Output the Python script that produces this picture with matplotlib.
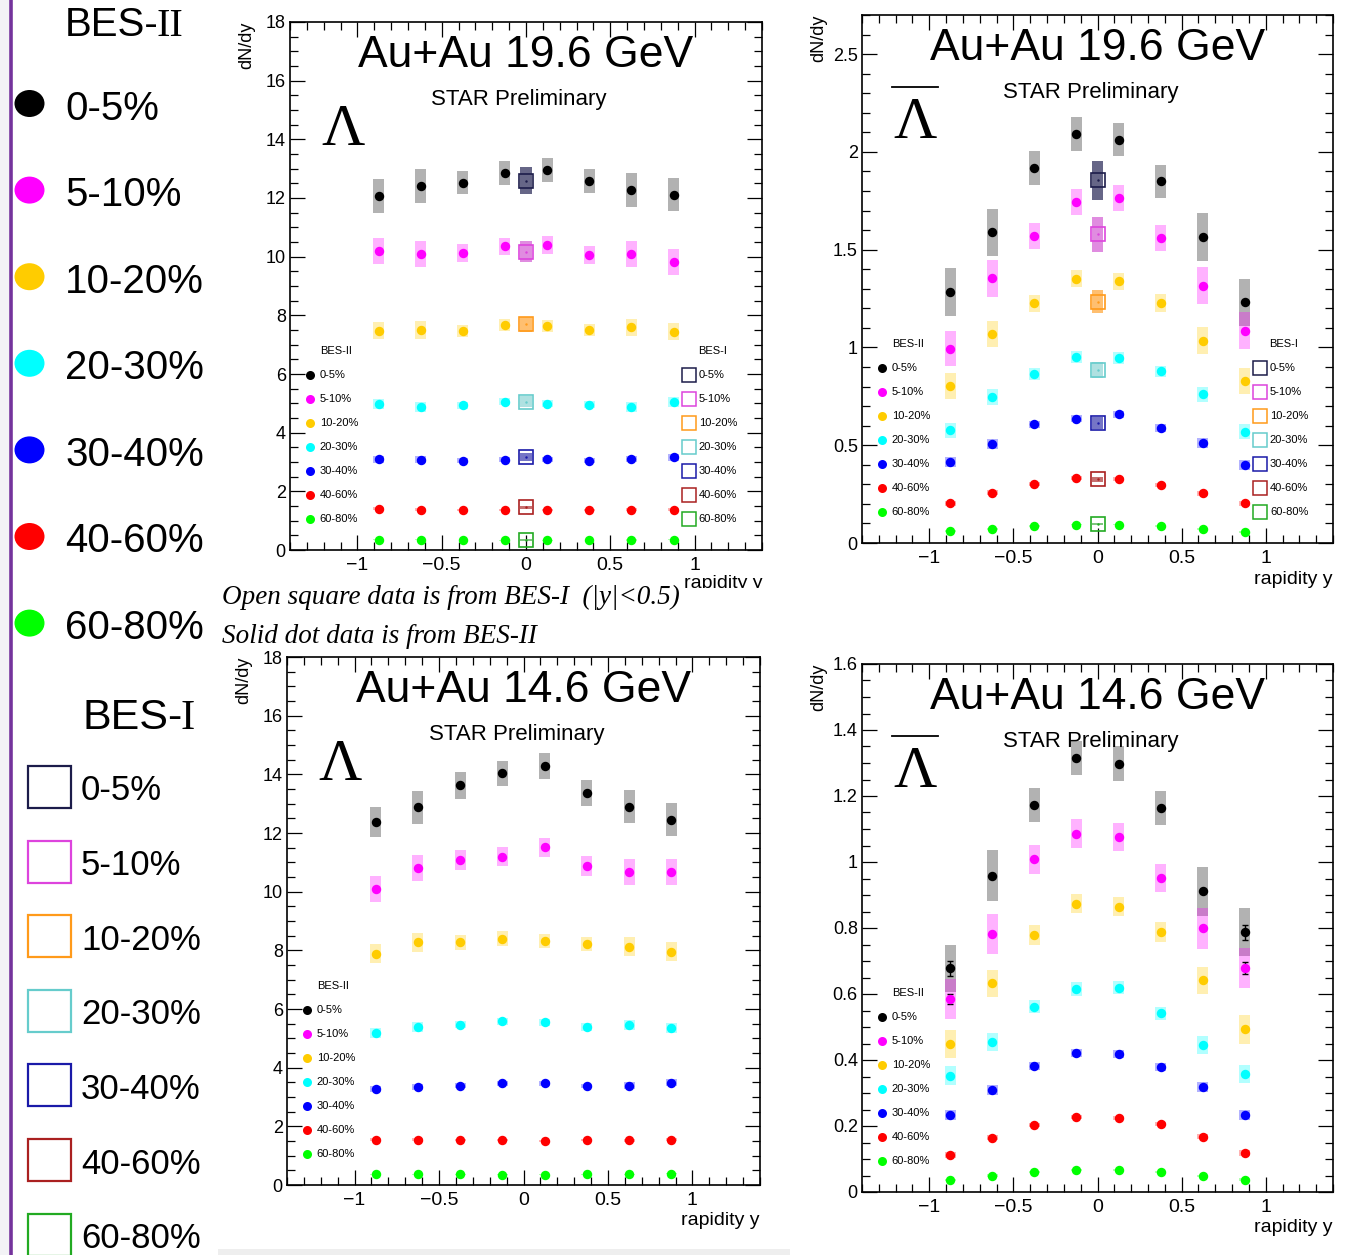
import matplotlib
matplotlib.use('Agg')
import matplotlib.pyplot as plt
from matplotlib.ticker import MultipleLocator, FuncFormatter
from matplotlib.patches import Rectangle, Ellipse

plt.rcParams['font.family'] = ['Liberation Sans', 'DejaVu Sans']

# ---------------- data ----------------
rapidity = [-0.875, -0.625, -0.375, -0.125, 0.125, 0.375, 0.625, 0.875]
centralities = ['0-5%', '5-10%', '10-20%', '20-30%', '30-40%', '40-60%', '60-80%']
bes2_colors = ['#000000', '#ff00ff', '#ffcc00', '#00ffff', '#0000ff', '#ff0000', '#00ff00']
bes1_edge = ['#1c1c4a', '#dd44dd', '#ff9a1a', '#66cccc', '#1a1aa8', '#aa2020', '#22aa22']
bes1_fill = ['#55557a', '#dd80dd', '#ffb860', '#a6dede', '#6666c0', '#c06060', '#70c070']

# Lambda, Au+Au 19.6 GeV (BES-II)
lam19_val = [
    [12.07, 12.41, 12.52, 12.86, 12.96, 12.58, 12.27, 12.11],
    [10.18, 10.08, 10.13, 10.35, 10.39, 10.06, 10.08, 9.83],
    [7.47, 7.50, 7.47, 7.68, 7.63, 7.51, 7.59, 7.44],
    [4.99, 4.89, 4.93, 5.05, 4.98, 4.95, 4.86, 5.05],
    [3.09, 3.08, 3.05, 3.08, 3.09, 3.04, 3.10, 3.16],
    [1.41, 1.38, 1.36, 1.37, 1.36, 1.36, 1.38, 1.38],
    [0.35, 0.35, 0.34, 0.33, 0.33, 0.34, 0.34, 0.35],
]
lam19_sys = [
    [0.57, 0.57, 0.40, 0.40, 0.41, 0.40, 0.58, 0.57],
    [0.44, 0.44, 0.30, 0.30, 0.30, 0.30, 0.44, 0.44],
    [0.29, 0.29, 0.21, 0.21, 0.21, 0.21, 0.29, 0.29],
    [0.17, 0.17, 0.12, 0.12, 0.12, 0.12, 0.17, 0.17],
    [0.11, 0.11, 0.08, 0.08, 0.08, 0.08, 0.11, 0.11],
    [0.05, 0.05, 0.04, 0.04, 0.04, 0.04, 0.05, 0.05],
    [0.02, 0.02, 0.015, 0.015, 0.015, 0.015, 0.02, 0.02],
]
# Lambda, 19.6 GeV BES-I (|y|<0.5)
lam19_bes1_val = [12.59, 10.17, 7.69, 5.06, 3.17, 1.45, 0.35]
lam19_bes1_sys = [0.47, 0.36, 0.25, 0.20, 0.12, 0.06, 0.03]

# Anti-Lambda, Au+Au 19.6 GeV (BES-II)
alam19_val = [
    [1.285, 1.588, 1.918, 2.092, 2.063, 1.850, 1.566, 1.230],
    [0.994, 1.354, 1.570, 1.744, 1.764, 1.559, 1.316, 1.086],
    [0.803, 1.068, 1.225, 1.352, 1.338, 1.227, 1.035, 0.830],
    [0.576, 0.748, 0.865, 0.951, 0.947, 0.877, 0.760, 0.570],
    [0.416, 0.506, 0.607, 0.635, 0.658, 0.588, 0.510, 0.398],
    [0.203, 0.258, 0.303, 0.332, 0.328, 0.297, 0.254, 0.203],
    [0.059, 0.074, 0.088, 0.094, 0.094, 0.086, 0.074, 0.057],
]
alam19_sys = [
    [0.123, 0.121, 0.085, 0.086, 0.086, 0.085, 0.122, 0.120],
    [0.090, 0.094, 0.065, 0.065, 0.065, 0.065, 0.095, 0.094],
    [0.067, 0.067, 0.044, 0.045, 0.045, 0.044, 0.067, 0.067],
    [0.040, 0.040, 0.030, 0.030, 0.030, 0.030, 0.040, 0.040],
    [0.025, 0.025, 0.018, 0.018, 0.018, 0.018, 0.025, 0.025],
    [0.012, 0.012, 0.010, 0.010, 0.010, 0.010, 0.012, 0.012],
    [0.005, 0.005, 0.004, 0.004, 0.004, 0.004, 0.005, 0.005],
]
alam19_bes1_val = [1.855, 1.578, 1.234, 0.885, 0.615, 0.326, 0.098]
alam19_bes1_sys = [0.099, 0.089, 0.060, 0.040, 0.030, 0.012, 0.006]

# Lambda, Au+Au 14.6 GeV (BES-II)
lam14_val = [
    [12.38, 12.87, 13.62, 14.03, 14.28, 13.36, 12.90, 12.46],
    [10.09, 10.80, 11.08, 11.19, 11.51, 10.87, 10.67, 10.68],
    [7.88, 8.28, 8.27, 8.40, 8.32, 8.22, 8.12, 7.96],
    [5.19, 5.38, 5.47, 5.58, 5.54, 5.38, 5.46, 5.34],
    [3.27, 3.35, 3.39, 3.47, 3.47, 3.37, 3.39, 3.49],
    [1.54, 1.54, 1.53, 1.53, 1.51, 1.53, 1.53, 1.55],
    [0.37, 0.36, 0.36, 0.35, 0.35, 0.36, 0.37, 0.39],
]
lam14_sys = [
    [0.51, 0.57, 0.45, 0.44, 0.45, 0.45, 0.57, 0.57],
    [0.45, 0.45, 0.33, 0.33, 0.33, 0.33, 0.45, 0.45],
    [0.32, 0.32, 0.25, 0.25, 0.25, 0.25, 0.32, 0.32],
    [0.17, 0.17, 0.13, 0.13, 0.13, 0.13, 0.17, 0.17],
    [0.11, 0.11, 0.08, 0.08, 0.08, 0.08, 0.11, 0.11],
    [0.05, 0.05, 0.04, 0.04, 0.04, 0.04, 0.05, 0.05],
    [0.02, 0.02, 0.015, 0.015, 0.015, 0.015, 0.02, 0.02],
]

# Anti-Lambda, Au+Au 14.6 GeV (BES-II)
alam14_val = [
    [0.678, 0.959, 1.172, 1.315, 1.298, 1.164, 0.911, 0.787],
    [0.585, 0.782, 1.008, 1.086, 1.075, 0.952, 0.799, 0.678],
    [0.448, 0.632, 0.780, 0.874, 0.865, 0.787, 0.641, 0.493],
    [0.353, 0.455, 0.562, 0.615, 0.619, 0.542, 0.445, 0.357],
    [0.234, 0.310, 0.383, 0.422, 0.417, 0.380, 0.319, 0.234],
    [0.112, 0.165, 0.202, 0.227, 0.223, 0.206, 0.168, 0.118],
    [0.036, 0.050, 0.061, 0.068, 0.068, 0.061, 0.049, 0.037],
]
alam14_sys = [
    [0.071, 0.077, 0.052, 0.052, 0.052, 0.052, 0.075, 0.073],
    [0.060, 0.060, 0.043, 0.043, 0.043, 0.043, 0.062, 0.061],
    [0.042, 0.042, 0.030, 0.030, 0.030, 0.030, 0.042, 0.044],
    [0.028, 0.028, 0.020, 0.020, 0.020, 0.020, 0.028, 0.028],
    [0.015, 0.015, 0.012, 0.012, 0.012, 0.012, 0.015, 0.015],
    [0.008, 0.008, 0.006, 0.006, 0.006, 0.006, 0.008, 0.008],
    [0.004, 0.004, 0.003, 0.003, 0.003, 0.003, 0.004, 0.004],
]
alam14_stat0 = [0.022, 0, 0, 0, 0, 0, 0, 0.022]
alam14_stat1 = [0.016, 0, 0, 0, 0, 0, 0, 0.018]

W, H = 1354, 1255
fig = plt.figure(figsize=(W / 100, H / 100), dpi=100)
fig.patch.set_facecolor('white')


def px_rect(l, r, t, b):
    return [l / W, (H - b) / H, (r - l) / W, (b - t) / H]


def fmt(v, pos):
    s = f'{v:g}'
    return s.replace('-', '\u2212')


panels = [
    dict(rect=px_rect(290, 762, 22, 550), val=lam19_val, sys=lam19_sys, ylim=18, major=2, minor=0.5,
         title='Au+Au 19.6 GeV', bar=False, b1v=lam19_bes1_val, b1s=lam19_bes1_sys, stat=None, rap_y=-0.063),
    dict(rect=px_rect(862, 1333, 15, 543), val=alam19_val, sys=alam19_sys, ylim=2.7, major=0.5, minor=0.1,
         title='Au+Au 19.6 GeV', bar=True, b1v=alam19_bes1_val, b1s=alam19_bes1_sys, stat=None, rap_y=-0.070),
    dict(rect=px_rect(287, 760, 657, 1185), val=lam14_val, sys=lam14_sys, ylim=18, major=2, minor=0.5,
         title='Au+Au 14.6 GeV', bar=False, b1v=None, b1s=None, stat=None, rap_y=-0.068),
    dict(rect=px_rect(862, 1333, 664, 1192), val=alam14_val, sys=alam14_sys, ylim=1.6, major=0.2, minor=0.05,
         title='Au+Au 14.6 GeV', bar=True, b1v=None, b1s=None, stat=[alam14_stat0, alam14_stat1], rap_y=-0.068),
]

BOXW = 0.066
for p in panels:
    ax = fig.add_axes(p['rect'])
    ax.set_xlim(-1.4, 1.4)
    ax.set_ylim(0, p['ylim'])
    ax.xaxis.set_major_locator(MultipleLocator(0.5))
    ax.xaxis.set_minor_locator(MultipleLocator(0.1))
    ax.yaxis.set_major_locator(MultipleLocator(p['major']))
    ax.yaxis.set_minor_locator(MultipleLocator(p['minor']))
    ax.xaxis.set_major_formatter(FuncFormatter(fmt))
    ax.yaxis.set_major_formatter(FuncFormatter(fmt))
    ax.tick_params(which='both', direction='in', top=True, right=True, width=0.9)
    ax.tick_params(which='major', length=11)
    ax.tick_params(which='minor', length=5.5)
    ax.tick_params(axis='x', labelsize=14, pad=5)
    ax.tick_params(axis='y', labelsize=13, pad=3)
    for s in ax.spines.values():
        s.set_linewidth(1.2)

    # BES-II systematic boxes and points
    for i in range(len(centralities)):
        vals = p['val'][i]
        sy = p['sys'][i]
        ax.bar(rapidity, [2 * e for e in sy], bottom=[v - e for v, e in zip(vals, sy)], width=BOXW,
               color=bes2_colors[i], alpha=0.3, linewidth=0, zorder=2)
    if p['stat'] is not None:
        for i, st in enumerate(p['stat']):
            ax.errorbar(rapidity, p['val'][i], yerr=st, fmt='none', ecolor='black', elinewidth=1,
                        capsize=2, capthick=1, zorder=3)
    for i in range(len(centralities)):
        ax.plot(rapidity, p['val'][i], 'o', color=bes2_colors[i], ms=6.8, mew=0, zorder=4)

    # BES-I
    if p['b1v'] is not None:
        for i in range(len(centralities)):
            v, e = p['b1v'][i], p['b1s'][i]
            ax.bar([0.0], [2 * e], bottom=[v - e], width=BOXW, color=bes1_fill[i], alpha=0.9,
                   linewidth=0, zorder=2.5)
            ax.plot([0.0], [v], 's', mfc='none', mec=bes1_edge[i], mew=1.2, ms=10, zorder=5)
            ax.plot([0.0], [v], '.', color=bes1_edge[i], ms=1.5, zorder=5)

    # legends (BES-II)
    ax.text(0.063, 0.376, 'BES-II', transform=ax.transAxes, fontsize=8, va='center', ha='left')
    for i, lab in enumerate(centralities):
        y = 0.331 - i * 0.0455
        ax.plot([0.043], [y], 'o', color=bes2_colors[i], ms=6.5, mew=0, transform=ax.transAxes,
                clip_on=False, zorder=6)
        ax.text(0.063, y, lab, transform=ax.transAxes, fontsize=8, va='center', ha='left')
    if p['b1v'] is not None:
        ax.text(0.864, 0.376, 'BES-I', transform=ax.transAxes, fontsize=8, va='center', ha='left')
        for i, lab in enumerate(centralities):
            y = 0.331 - i * 0.0455
            ax.plot([0.845], [y], 's', mfc='none', mec=bes1_edge[i], mew=1.1, ms=10,
                    transform=ax.transAxes, clip_on=False, zorder=6)
            ax.text(0.866, y, lab, transform=ax.transAxes, fontsize=8, va='center', ha='left')

    # texts
    ax.text(0.5, 0.914, p['title'], transform=ax.transAxes, fontsize=32, ha='center', va='baseline')
    ax.text(0.485, 0.843, 'STAR Preliminary', transform=ax.transAxes, fontsize=16, ha='center', va='baseline')
    ax.text(0.112, 0.767, '\u039b', transform=ax.transAxes, fontsize=43, ha='center', va='baseline',
            family=['Liberation Serif', 'DejaVu Serif'])
    if p['bar']:
        ax.plot([0.064, 0.162], [0.864, 0.864], color='black', lw=1.3, transform=ax.transAxes)
    ax.text(-0.092, 1.0, 'dN/dy', transform=ax.transAxes, rotation=90, fontsize=13, ha='center', va='top')
    ax.text(1.0, p['rap_y'], 'rapidity y', transform=ax.transAxes, fontsize=14, ha='right', va='center')

# ---------------- overlay: left legend and notes ----------------
ov = fig.add_axes([0, 0, 1, 1], zorder=10)
ov.set_xlim(0, W)
ov.set_ylim(H, 0)
ov.axis('off')
ov.patch.set_alpha(0)

ov.add_patch(Rectangle((0, 0), 9, H, color='#f3f3f6', lw=0))
ov.plot([10.5, 10.5], [0, H], color='#74339c', lw=2.6, solid_capstyle='butt')
ov.add_patch(Rectangle((218, 1249), 572, 6, color='#eeeeee', lw=0))

# BES-II legend
ov.text(65, 36, 'BES-', fontsize=29, ha='left', va='baseline')
ov.text(157, 36, 'II', fontsize=29, ha='left', va='baseline', family=['Liberation Serif', 'DejaVu Serif'])
for i, lab in enumerate(centralities):
    yc = 103.5 + i * 86.6
    ov.add_patch(Ellipse((29.5, yc), 30, 27, color=bes2_colors[i], lw=0))
    ov.text(65, yc + 5, lab, fontsize=29, ha='left', va='center')

# BES-I legend
ov.text(82, 729, 'BES-', fontsize=31, ha='left', va='baseline')
ov.text(181, 729, 'I', fontsize=31, ha='left', va='baseline', family=['Liberation Serif', 'DejaVu Serif'])
for i, lab in enumerate(centralities):
    yc = 787 + i * 74.6
    ov.add_patch(Rectangle((27.5, yc - 21), 43, 42, fill=False, ec=bes1_edge[i], lw=1.6))
    ov.text(81, yc + 4, lab, fontsize=25, ha='left', va='center')

# notes
ov.add_patch(Rectangle((218, 588), 572, 26, color='white', lw=0))
ov.text(222, 604, 'Open square data is from BES-I  (|y|<0.5)', fontsize=19.5, style='italic',
        family=['Liberation Serif', 'DejaVu Serif'], ha='left', va='baseline')
ov.text(222, 643, 'Solid dot data is from BES-II', fontsize=19.5, style='italic',
        family=['Liberation Serif', 'DejaVu Serif'], ha='left', va='baseline')

fig.savefig('out.png', dpi=100, facecolor='white')
